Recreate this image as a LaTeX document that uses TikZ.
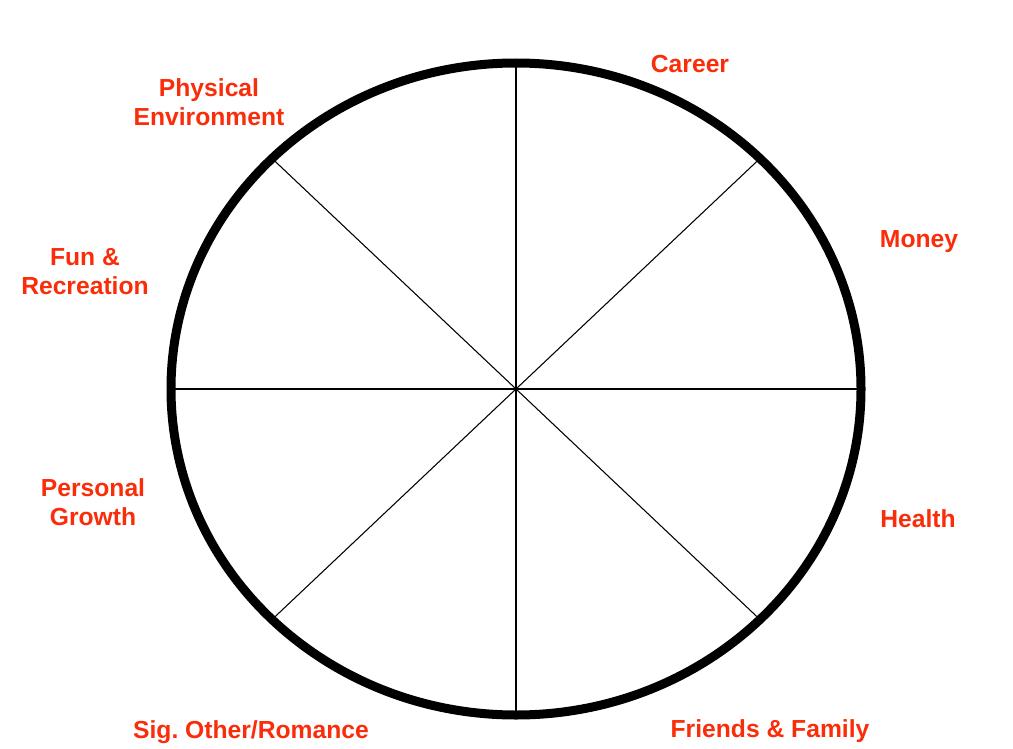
\documentclass[tikz,border=0pt]{standalone}
\usepackage{fontspec}
\setmainfont{Liberation Sans}
\usetikzlibrary{calc}
\definecolor{labelred}{RGB}{250,45,10}
\frenchspacing
\begin{document}
\begin{tikzpicture}[x=0.75pt,y=-0.75pt,
  rim/.style={line width=6.75pt,draw=black},
  spoke/.style={line width=0.8pt,draw=black},
  lbl/.style={text=labelred,font=\fontsize{18.5}{21.75}\selectfont\bfseries,inner sep=0pt,align=center,anchor=base}]
\useasboundingbox[fill=white] (0,0) rectangle (1013,749);
\coordinate (c) at (516,389);
\foreach \a/\n in {0/e,45/ne,90/n,135/nw,180/w,225/sw,270/s,315/se}{
  \coordinate (p\n) at ($(c)+(\a:345 and -326)$);
}
\draw[spoke] (pn) -- (ps);
\draw[spoke] (pe) -- (pw);
\draw[spoke] (pne) -- (psw);
\draw[spoke] (pnw) -- (pse);
\draw[rim] (c) ellipse [x radius=258.75pt, y radius=244.5pt];
\node[lbl] (career) at (690,73) {Career};
\node[lbl] (phys) at (209,125) {Physical\\Environment};
\node[lbl] (fun) at (85,294) {Fun \&\\Recreation};
\node[lbl] (money) at (919,247) {Money};
\node[lbl] (health) at (918,527) {Health};
\node[lbl] (pers) at (93,525) {Personal\\Growth};
\node[lbl] (sig) at (251,738) {Sig. Other/Romance};
\node[lbl] (friends) at (770,737) {Friends \& Family};
\end{tikzpicture}
\end{document}
